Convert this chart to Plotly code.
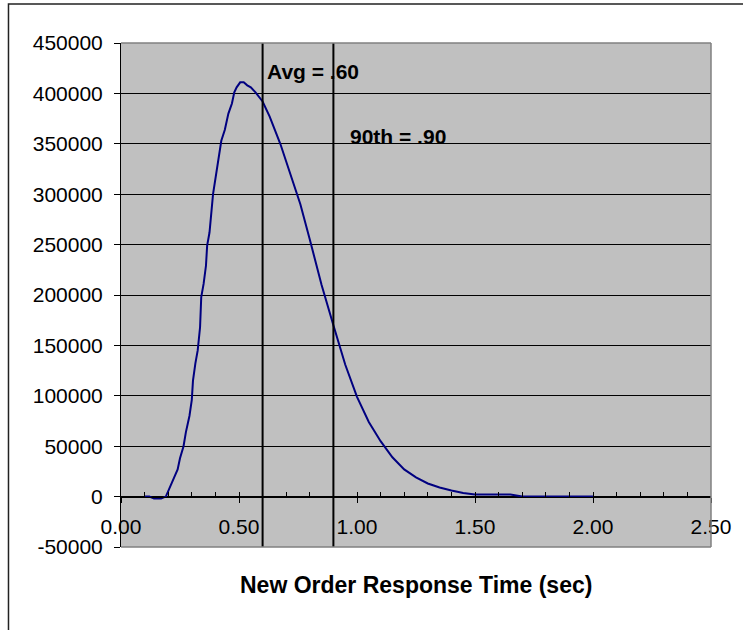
import plotly.graph_objects as go

# ---- data ----
resp_time = [0.10, 0.12, 0.14, 0.17, 0.19, 0.24, 0.25, 0.265, 0.275, 0.29, 0.30, 0.305,
             0.315, 0.325, 0.335, 0.34, 0.35, 0.36, 0.365, 0.375, 0.39, 0.405, 0.425,
             0.44, 0.455, 0.47, 0.48, 0.49, 0.505, 0.52, 0.535, 0.55, 0.57, 0.60, 0.63,
             0.675, 0.72, 0.76, 0.80, 0.85, 0.90, 0.95, 1.00, 1.05, 1.10, 1.15, 1.20,
             1.25, 1.30, 1.35, 1.40, 1.45, 1.50, 1.55, 1.60, 1.65, 1.70, 1.75, 1.80,
             1.85, 1.90, 1.95, 2.00]
count = [0, 0, -2000, -2000, 0, 27000, 38000, 50000, 64000, 80000, 96000, 115000,
         132000, 145000, 168000, 198000, 211000, 229000, 249000, 262000, 300000, 323000, 353000,
         364000, 380000, 390000, 401000, 406000, 411000, 411000, 408000, 406000, 401000, 392000, 377000,
         350000, 318000, 290000, 255000, 210000, 170000, 131000, 99000, 74000, 55000, 39000, 27000,
         19000, 13000, 9000, 6000, 3500, 2000, 2000, 2000, 2000, 0, 0, 0,
         0, 0, 0, 0]

avg_time = 0.60
p90_time = 0.90
avg_label = "Avg = .60"
p90_label = "90th = .90"
x_title = "New Order Response Time (sec)"

y_tick_vals = [-50000, 0, 50000, 100000, 150000, 200000, 250000, 300000, 350000, 400000, 450000]
y_tick_text = ["-50000", "0", "50000", "100000", "150000", "200000", "250000", "300000",
               "350000", "400000", "450000"]
x_tick_vals = [0.0, 0.5, 1.0, 1.5, 2.0, 2.5]
x_tick_text = ["0.00", "0.50", "1.00", "1.50", "2.00", "2.50"]

FONT = "Liberation Sans, Arial, sans-serif"

fig = go.Figure()
fig.add_trace(go.Scatter(x=resp_time, y=count, mode="lines",
                         line=dict(color="#000080", width=2), showlegend=False,
                         hoverinfo="skip"))
# invisible trace to carry the minor-tick axis
fig.add_trace(go.Scatter(x=[x_tick_vals[0], x_tick_vals[-1]], y=[0, 0], xaxis="x2",
                         mode="lines", line=dict(width=0), opacity=0, showlegend=False,
                         hoverinfo="skip"))

shapes = []
for xv in (avg_time, p90_time):
    shapes.append(dict(type="line", xref="x", yref="paper", x0=xv, x1=xv, y0=0, y1=1,
                       line=dict(color="black", width=2)))
# plot-area border (top, right, bottom) in gray
shapes.append(dict(type="line", xref="paper", yref="paper", x0=0, x1=1, y0=1, y1=1,
                   line=dict(color="#808080", width=1.5)))
shapes.append(dict(type="line", xref="paper", yref="paper", x0=1, x1=1, y0=0, y1=1,
                   line=dict(color="#808080", width=1.5)))
shapes.append(dict(type="line", xref="paper", yref="paper", x0=0, x1=1, y0=0, y1=0,
                   line=dict(color="#808080", width=1.5)))
# outer chart border
shapes.append(dict(type="rect", xref="paper", yref="paper", x0=-0.1907, x1=1.07,
                   y0=-0.19, y1=1.0774, line=dict(color="#222222", width=1.5)))

annotations = [
    dict(x=avg_time + 0.012, y=422000, xref="x", yref="y", text="<b>" + avg_label + "</b>",
         showarrow=False, xanchor="left", yanchor="middle",
         font=dict(family=FONT, size=21, color="black")),
    dict(x=p90_time + 0.062, y=357000, xref="x", yref="y", text="<b>" + p90_label + "</b>",
         showarrow=False, xanchor="left", yanchor="middle",
         font=dict(family=FONT, size=21, color="black")),
    dict(x=0.5, y=-0.075, xref="paper", yref="paper", text="<b>" + x_title + "</b>",
         showarrow=False, xanchor="center", yanchor="middle",
         font=dict(family=FONT, size=23, color="black")),
]

fig.update_layout(
    width=743, height=630,
    margin=dict(l=121, r=32, t=43, b=83, pad=0),
    paper_bgcolor="white", plot_bgcolor="#C0C0C0",
    font=dict(family=FONT, size=21, color="black"),
    showlegend=False,
    shapes=shapes, annotations=annotations,
    xaxis=dict(range=[0, 2.5], tickvals=x_tick_vals, ticktext=x_tick_text,
               showgrid=False, zeroline=False, showline=True, linecolor="black", linewidth=1,
               ticks="outside", ticklen=5, tickcolor="black", tickwidth=1,
               anchor="free", position=0.1, ticklabelstandoff=6,
               tickfont=dict(family=FONT, size=21, color="black")),
    xaxis2=dict(range=[0, 2.5], overlaying="x", anchor="free", position=0.1,
                tick0=0, dtick=0.1, ticks="inside", ticklen=5, tickcolor="black", tickwidth=1,
                showticklabels=False, showgrid=False, zeroline=False, showline=False),
    yaxis=dict(range=[-50000, 450000], tickvals=y_tick_vals, ticktext=y_tick_text,
               showgrid=True, gridcolor="black", gridwidth=1, zeroline=False,
               showline=True, linecolor="black", linewidth=1,
               ticks="outside", ticklen=6, tickcolor="black", tickwidth=1,
               ticklabelstandoff=7,
               tickfont=dict(family=FONT, size=21, color="black")),
)

fig.write_html("out.html", config={"displayModeBar": False},
               post_script="document.body.style.margin='0';document.body.style.overflow='hidden';")
